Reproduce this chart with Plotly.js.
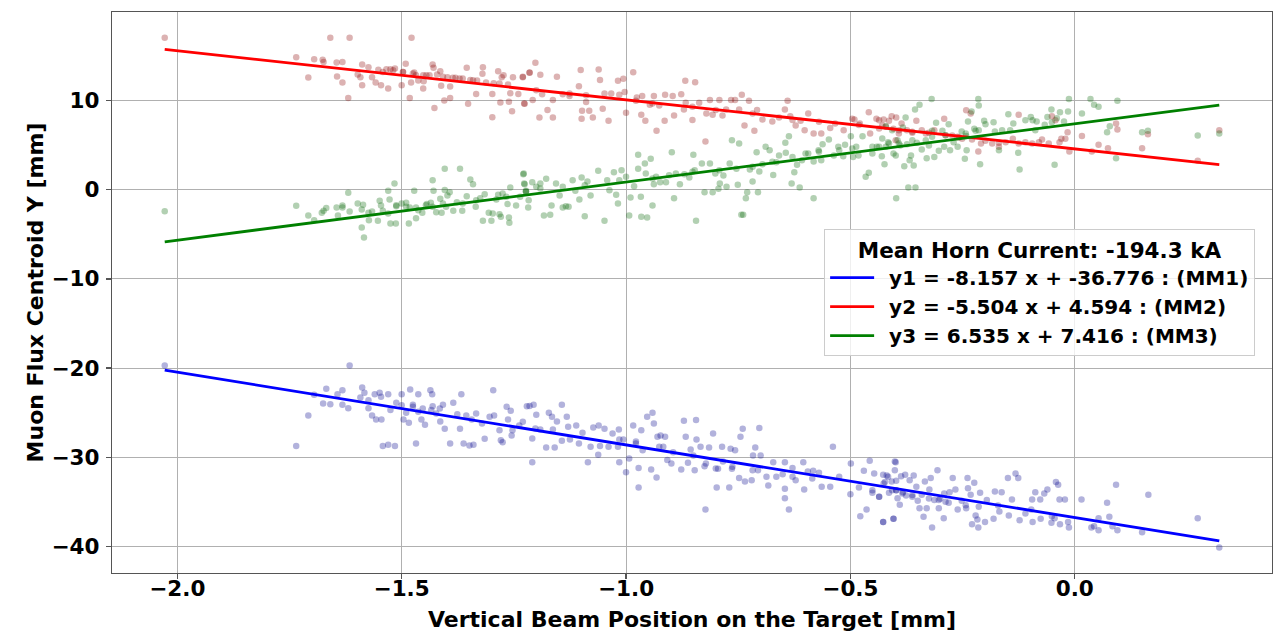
<!DOCTYPE html>
<html>
<head>
<meta charset="utf-8">
<script src="https://cdn.plot.ly/plotly-3.0.1.min.js"></script>
<style>html,body{margin:0;padding:0;background:#fff;}#chart{width:1282px;height:632px;}</style>
</head>
<body>
<div id="chart"></div>
<script>
// Fit coefficients (from legend)
const slopes = [-8.157, -5.504, 6.535];
const intercepts = [-36.776, 4.594, 7.416];
const monitorNames = ['MM1', 'MM2', 'MM3'];
const hornCurrent = -194.3;

// MM1 points: [beam position, centroid Y]
const mm1Points = [
[-2.028,-19.71],[-1.616,-19.71],[-1.735,-28.76],[-1.708,-25.32],[-1.695,-23.00],[-1.675,-23.98],[-1.668,-22.33],[-1.659,-24.05],[-1.643,-22.93],[-1.632,-22.48],[-1.632,-24.13],[-1.619,-24.50],[-1.592,-23.30],[-1.588,-22.18],[-1.583,-22.78],[-1.574,-23.60],[-1.574,-24.50],[-1.566,-25.32],[-1.560,-22.93],[-1.557,-25.77],[-1.549,-22.78],[-1.546,-23.23],[-1.545,-25.77],[-1.542,-28.76],[-1.530,-28.61],[-1.530,-22.93],[-1.525,-24.72],[-1.515,-28.76],[-1.512,-23.90],[-1.500,-22.93],[-1.496,-25.77],[-1.490,-25.02],[-1.481,-22.40],[-1.484,-26.15],[-1.475,-24.13],[-1.468,-28.47],[-1.463,-22.93],[-1.456,-25.77],[-1.448,-26.37],[-1.436,-22.48],[-1.432,-22.93],[-1.431,-24.28],[-1.423,-25.10],[-1.414,-26.00],[-1.408,-24.13],[-1.404,-26.82],[-1.392,-28.47],[-1.385,-23.90],[-1.376,-25.17],[-1.370,-26.82],[-1.367,-22.93],[-1.362,-28.47],[-1.356,-25.32],[-1.349,-28.69],[-1.344,-25.77],[-1.340,-28.61],[-1.334,-25.10],[-1.321,-26.22],[-1.315,-27.94],[-1.304,-25.47],[-1.296,-22.48],[-1.294,-25.32],[-1.282,-26.97],[-1.279,-28.09],[-1.275,-28.32],[-1.266,-24.35],[-1.263,-25.77],[-1.257,-24.80],[-1.255,-27.57],[-1.253,-26.97],[-1.238,-26.44],[-1.221,-24.28],
[-1.500,-24.16],[-1.475,-24.35],[-1.453,-24.54],[-1.434,-24.72],[-1.415,-24.54],[-1.463,-24.91],
[-1.230,-26.03],[-1.215,-24.27],[-1.206,-24.12],[-1.200,-25.25],[-1.209,-27.90],[-1.209,-30.56],[-1.202,-26.78],[-1.191,-26.89],[-1.178,-28.91],[-1.172,-25.02],[-1.165,-25.47],[-1.163,-26.89],[-1.159,-28.91],[-1.154,-25.99],[-1.143,-24.12],[-1.143,-28.16],[-1.132,-25.47],[-1.129,-26.59],[-1.125,-28.01],[-1.111,-26.44],[-1.105,-28.46],[-1.097,-27.27],[-1.085,-30.56],[-1.079,-28.84],[-1.073,-26.67],[-1.062,-29.74],[-1.061,-26.44],[-1.058,-28.76],[-1.048,-26.82],[-1.039,-28.84],[-1.030,-27.34],[-1.018,-28.84],[-1.015,-30.56],[-1.016,-26.89],[-1.006,-28.01],[-1.000,-31.68],[-0.993,-30.15],[-0.984,-26.44],[-0.978,-28.24],[-0.972,-31.23],[-0.972,-33.40],[-0.966,-26.97],[-0.963,-29.21],[-0.953,-25.47],[-0.944,-31.38],[-0.941,-25.02],[-0.938,-26.22],[-0.932,-32.28],[-0.930,-27.72],[-0.923,-27.57],[-0.917,-28.84],[-0.913,-27.72],[-0.908,-30.33],[-0.899,-30.71],[-0.895,-29.44],[-0.877,-31.38],[-0.871,-25.92],[-0.867,-27.72],[-0.862,-30.63],[-0.856,-29.14],[-0.850,-29.81],[-0.847,-31.46],[-0.844,-25.84],[-0.843,-28.01],[-0.834,-28.84],[-0.825,-31.01],[-0.823,-35.87],[-0.815,-28.91],[-0.806,-27.34],[-0.798,-33.40],[-0.795,-31.31],[-0.786,-28.84],[-0.784,-30.48],[-0.770,-33.40],[-0.767,-29.06],[-0.764,-31.31],[-0.757,-29.21],[-0.748,-32.35],[-0.745,-27.72],[-0.740,-26.82],[-0.735,-32.73],[-0.720,-32.58],[-0.717,-29.81],[-0.712,-28.91],[-0.706,-31.46],[-0.703,-26.74],[-0.700,-29.81],[-0.687,-32.20],[-0.683,-33.18],[-0.672,-30.56],[-0.665,-32.20],[-0.651,-31.91],[-0.646,-30.56],[-0.646,-33.55],[-0.646,-34.60],[-0.637,-35.87],[-0.629,-31.23],[-0.622,-32.58],[-0.605,-30.56],[-0.603,-33.63],[-0.595,-31.61],[-0.583,-31.53],[-0.570,-31.76],[-0.564,-33.33],[-0.545,-33.33],[-0.539,-28.84],[-0.525,-32.20],[-0.499,-30.71],[-0.500,-34.15],[-0.478,-36.62],[-0.470,-31.53],[-0.464,-35.87],[-0.457,-30.41],[-0.451,-34.00],[-0.447,-31.83],[-0.436,-34.45],[-0.427,-37.29],[-0.423,-32.80],[-0.416,-32.20],[-0.404,-36.92],[-0.399,-30.56],[-0.398,-33.70],[-0.398,-32.65],
[-1.015,-28.01],[-0.978,-28.46],[-0.926,-28.84],[-0.822,-30.71],[-0.800,-31.27],[-0.763,-31.08],[-0.718,-31.46],[-0.629,-32.20],[-0.585,-32.39],[-0.481,-33.40],[-0.451,-33.70],
[-0.436,-34.45],[-0.427,-31.98],[-0.427,-37.29],[-0.426,-32.95],[-0.419,-32.06],[-0.414,-34.00],[-0.408,-32.73],[-0.404,-36.92],[-0.401,-30.48],[-0.401,-31.46],[-0.398,-33.70],[-0.395,-34.60],[-0.390,-35.35],[-0.387,-32.13],[-0.383,-33.93],[-0.378,-31.98],[-0.376,-34.30],[-0.368,-32.58],[-0.362,-34.45],[-0.359,-32.06],[-0.353,-33.33],[-0.350,-34.90],[-0.346,-35.72],[-0.341,-34.23],[-0.337,-36.70],[-0.334,-32.73],[-0.330,-35.72],[-0.324,-33.63],[-0.321,-32.35],[-0.318,-37.89],[-0.313,-34.82],[-0.306,-31.46],[-0.303,-35.72],[-0.300,-34.67],[-0.292,-36.85],[-0.291,-34.08],[-0.281,-35.12],[-0.279,-33.93],[-0.272,-32.35],[-0.266,-33.63],[-0.261,-35.87],[-0.252,-34.90],[-0.242,-35.72],[-0.239,-32.35],[-0.238,-33.48],[-0.232,-34.23],[-0.229,-37.52],[-0.224,-32.88],[-0.221,-36.55],[-0.217,-37.00],[-0.215,-37.89],[-0.214,-35.57],[-0.211,-34.00],[-0.200,-37.29],[-0.196,-34.82],[-0.181,-36.92],[-0.178,-33.85],[-0.171,-35.42],[-0.168,-36.10],[-0.163,-33.93],[-0.147,-36.55],[-0.149,-32.35],[-0.140,-34.75],[-0.132,-31.83],[-0.126,-32.35],[-0.123,-37.07],[-0.110,-36.32],[-0.097,-35.87],[-0.095,-34.75],[-0.094,-37.29],[-0.088,-33.93],[-0.077,-34.75],[-0.076,-36.92],[-0.068,-34.08],[-0.061,-33.63],[-0.052,-37.37],[-0.051,-36.62],[-0.045,-36.85],[-0.042,-32.80],[-0.037,-33.10],[-0.034,-34.75],[-0.033,-37.52],[-0.022,-34.75],[-0.015,-37.29],[-0.013,-37.89],[0.015,-34.75],[0.037,-37.89],[0.043,-37.74],[0.053,-36.85],[0.053,-38.19],[0.072,-35.12],[0.077,-36.70],[0.084,-37.74],[0.092,-33.10],[0.095,-38.19],[0.150,-38.42],[0.164,-34.23],[0.274,-36.85],[0.322,-40.14],
[-0.407,-33.70],[-0.384,-34.08],[-0.362,-34.26],[-0.325,-34.64],[-0.303,-34.82],[-0.288,-35.01],[-0.243,-35.39]
];

// MM2 points
const mm2Points = [
[-2.028,17.06],[-1.735,14.89],[-1.708,12.61],[-1.695,14.66],[-1.676,14.59],[-1.674,14.36],[-1.659,17.06],[-1.645,14.29],[-1.644,12.72],[-1.632,14.36],[-1.632,12.05],[-1.619,10.32],[-1.616,17.06],[-1.598,12.94],[-1.592,12.64],[-1.588,14.07],[-1.588,11.75],[-1.574,13.77],[-1.566,12.64],[-1.558,12.05],[-1.552,13.47],[-1.546,11.75],[-1.542,13.24],[-1.530,11.37],[-1.525,13.54],[-1.515,13.62],[-1.500,11.75],[-1.497,13.24],[-1.491,14.14],[-1.482,10.32],[-1.479,12.05],[-1.478,17.06],[-1.472,13.17],[-1.468,12.87],[-1.463,12.27],[-1.452,11.37],[-1.451,12.20],[-1.445,12.87],[-1.431,14.07],[-1.429,13.69],[-1.427,9.20],[-1.421,12.94],[-1.414,13.32],[-1.412,11.67],[-1.405,10.03],[-1.398,12.64],[-1.392,10.32],[-1.392,11.60],[-1.380,12.57],[-1.371,12.49],[-1.355,13.69],[-1.352,9.65],[-1.347,12.34],[-1.334,10.77],[-1.332,12.27],[-1.320,13.02],[-1.319,13.77],[-1.298,10.77],[-1.298,8.15],[-1.295,11.97],[-1.285,13.32],[-1.280,9.80],[-1.277,12.64],[-1.273,12.87],[-1.261,9.88],[-1.258,10.85],[-1.254,8.83],[-1.252,12.64],[-1.240,10.77],[-1.230,12.64],[-1.226,9.65],[-1.215,13.17],
[-1.534,13.54],[-1.519,13.43],[-1.497,13.24],[-1.475,13.06],[-1.452,12.87],[-1.438,12.87],[-1.408,12.68],[-1.386,12.57],[-1.364,12.49],[-1.341,12.31],[-1.312,12.05],[-1.282,11.93],[-1.263,11.82],
[-1.230,12.69],[-1.227,9.70],[-1.215,13.14],[-1.208,10.07],[-1.202,14.26],[-1.191,12.91],[-1.193,8.13],[-1.187,10.74],[-1.175,8.95],[-1.163,8.13],[-1.163,10.07],[-1.154,12.69],[-1.141,10.74],[-1.126,10.52],[-1.105,11.64],[-1.101,13.44],[-1.099,7.98],[-1.098,8.87],[-1.089,9.85],[-1.082,8.87],[-1.074,8.13],[-1.061,13.51],[-1.058,12.32],[-1.052,9.10],[-1.048,10.82],[-1.039,7.75],[-1.033,10.82],[-1.018,12.24],[-1.015,10.67],[-1.006,12.46],[-1.003,10.97],[-1.000,8.65],[-0.984,13.21],[-0.976,10.37],[-0.966,8.42],[-0.964,10.52],[-0.957,7.75],[-0.947,9.55],[-0.938,10.52],[-0.932,6.63],[-0.926,9.47],[-0.914,7.75],[-0.913,10.67],[-0.896,10.52],[-0.893,8.35],[-0.877,10.74],[-0.871,9.02],[-0.868,12.24],[-0.867,9.77],[-0.852,7.83],[-0.846,12.09],[-0.837,9.77],[-0.823,5.43],[-0.821,8.57],[-0.813,10.07],[-0.807,8.42],[-0.792,10.07],[-0.785,8.35],[-0.777,9.02],[-0.766,10.07],[-0.757,10.07],[-0.748,9.02],[-0.742,10.67],[-0.736,7.23],[-0.726,10.00],[-0.714,6.63],[-0.708,8.95],[-0.696,7.90],[-0.674,7.68],[-0.659,8.13],[-0.646,9.02],[-0.640,10.00],[-0.634,8.27],[-0.622,7.23],[-0.611,7.75],[-0.602,6.70],[-0.594,8.57],[-0.582,6.33],[-0.565,6.33],[-0.545,6.93],[-0.534,7.45],[-0.515,6.70],[-0.496,7.98],[-0.491,7.90],[-0.479,7.45],[-0.459,8.72],[-0.456,6.33],[-0.442,7.98],[-0.429,7.23],[-0.414,7.75],[-0.398,8.13],[-0.399,5.58],
[-1.200,11.19],[-1.126,10.82],[-1.089,10.63],[-0.978,10.00],[-0.941,9.70],[-0.852,9.32],[-0.800,8.95],[-0.718,8.57],[-0.629,7.83],[-0.570,7.64],[-0.481,7.27],[-0.436,6.89],
[-0.436,7.82],[-0.426,7.90],[-0.408,8.27],[-0.404,6.85],[-0.392,6.32],[-0.386,7.45],[-0.374,6.70],[-0.362,6.40],[-0.353,7.75],[-0.341,6.70],[-0.332,6.32],[-0.313,6.70],[-0.291,7.97],[-0.273,6.10],[-0.261,5.95],[-0.251,5.73],[-0.242,8.94],[-0.232,8.57],[-0.215,4.30],[-0.209,5.20],[-0.184,5.20],[-0.169,4.83],[-0.154,5.35],[-0.138,5.73],[-0.125,8.42],[-0.110,5.35],[-0.095,5.20],[-0.080,5.35],[-0.073,5.65],[-0.058,5.20],[-0.051,8.27],[-0.043,7.82],[-0.034,5.35],[-0.030,5.73],[-0.021,5.73],[-0.016,6.47],[-0.012,4.30],[0.016,6.03],[0.038,4.30],[0.053,5.05],[0.074,4.68],[0.092,7.45],[0.095,6.77],[0.150,4.68],[0.163,6.25],[0.274,3.26],[0.322,6.70],
[-0.421,7.07],[-0.392,6.70],[-0.362,6.51],[-0.325,6.40],[-0.288,6.14],[-0.258,5.88],[-0.229,5.65],[-0.199,5.50],[-0.169,5.28],[-0.125,5.20]
];

// MM3 points
const mm3Points = [
[-2.028,-2.39],[-1.735,-1.79],[-1.708,-2.88],[-1.695,-3.40],[-1.678,-2.58],[-1.674,-2.35],[-1.668,-2.05],[-1.645,-1.98],[-1.642,-2.88],[-1.632,-1.75],[-1.632,-1.98],[-1.619,-0.33],[-1.616,-2.43],[-1.598,-1.53],[-1.589,-4.22],[-1.586,-1.68],[-1.584,-5.35],[-1.589,-2.20],[-1.574,-2.58],[-1.573,-3.40],[-1.566,-2.43],[-1.553,-3.47],[-1.549,-1.23],[-1.546,-1.75],[-1.542,-2.35],[-1.530,-0.11],[-1.530,-2.65],[-1.527,-1.08],[-1.525,-3.77],[-1.516,0.72],[-1.513,-3.77],[-1.512,-1.83],[-1.500,-1.53],[-1.490,-1.45],[-1.484,-3.77],[-1.482,-1.98],[-1.472,-0.11],[-1.468,-3.18],[-1.463,-2.28],[-1.454,-2.58],[-1.444,-1.60],[-1.435,-1.45],[-1.431,1.09],[-1.429,-0.11],[-1.423,-2.50],[-1.414,-1.01],[-1.411,-2.58],[-1.404,2.36],[-1.404,-0.03],[-1.401,-1.90],[-1.398,-0.63],[-1.393,-0.26],[-1.385,-2.35],[-1.377,-1.38],[-1.370,2.36],[-1.365,-2.35],[-1.355,-0.71],[-1.347,1.16],[-1.341,0.64],[-1.335,-1.90],[-1.325,-0.93],[-1.319,-3.47],[-1.315,-0.48],[-1.306,-2.58],[-1.300,-3.47],[-1.297,-2.65],[-1.285,-0.56],[-1.282,-2.73],[-1.279,-3.03],[-1.275,-0.41],[-1.264,-1.60],[-1.261,-3.10],[-1.260,-3.70],[-1.258,0.27],[-1.245,-1.75],[-1.236,-0.78],[-1.229,1.76],[-1.226,0.64],[-1.218,-1.98],[-1.223,-0.18],
[-1.512,-1.72],[-1.490,-1.90],[-1.468,-1.98],[-1.446,-1.72],[-1.431,-1.90],[-1.408,-1.53],[-1.364,-1.53],[-1.334,-1.16],[-1.289,-1.08],[-1.267,-0.78],
[-1.228,1.83],[-1.227,0.71],[-1.223,-0.11],[-1.217,-1.16],[-1.209,0.86],[-1.200,0.34],[-1.191,0.71],[-1.183,-2.88],[-1.178,1.24],[-1.169,-2.80],[-1.166,-1.76],[-1.156,0.71],[-1.148,-0.63],[-1.141,-1.98],[-1.134,-1.83],[-1.128,-1.91],[-1.119,1.09],[-1.113,-0.11],[-1.104,-1.08],[-1.099,1.39],[-1.092,-2.95],[-1.086,0.94],[-1.079,-0.63],[-1.062,2.13],[-1.048,-3.48],[-1.042,1.09],[-1.037,-0.04],[-1.027,1.98],[-1.022,-0.56],[-1.018,-1.53],[-1.010,2.21],[-1.000,1.46],[-0.990,-0.86],[-0.993,-2.88],[-0.982,0.41],[-0.973,3.93],[-0.973,2.36],[-0.967,-0.78],[-0.966,-3.03],[-0.958,2.96],[-0.956,1.83],[-0.953,-3.10],[-0.945,3.48],[-0.941,-1.76],[-0.938,0.64],[-0.933,1.46],[-0.924,0.86],[-0.911,0.86],[-0.898,4.23],[-0.893,-0.93],[-0.889,1.83],[-0.880,0.64],[-0.870,1.76],[-0.859,1.39],[-0.850,3.93],[-0.847,2.21],[-0.844,-3.48],[-0.831,2.96],[-0.825,-0.26],[-0.813,2.96],[-0.807,-0.26],[-0.801,1.83],[-0.794,0.11],[-0.791,0.71],[-0.783,1.61],[-0.776,0.34],[-0.769,2.96],[-0.764,5.58],[-0.754,2.36],[-0.751,0.56],[-0.748,5.20],[-0.743,-2.80],[-0.739,-2.80],[-0.733,-0.93],[-0.730,-0.26],[-0.724,2.28],[-0.718,0.94],[-0.709,4.23],[-0.706,-0.26],[-0.703,2.06],[-0.696,2.88],[-0.689,4.83],[-0.680,4.45],[-0.672,1.68],[-0.665,3.11],[-0.659,3.85],[-0.645,5.28],[-0.644,4.15],[-0.637,6.02],[-0.631,0.71],[-0.625,1.98],[-0.619,2.81],[-0.613,0.26],[-0.608,3.33],[-0.600,4.08],[-0.594,4.08],[-0.582,-0.93],[-0.582,3.18],[-0.571,4.45],[-0.565,3.33],[-0.562,5.13],[-0.548,5.65],[-0.537,3.85],[-0.527,4.83],[-0.516,3.78],[-0.512,5.05],[-0.499,6.02],[-0.494,3.70],[-0.487,4.83],[-0.482,3.85],[-0.473,6.02],[-0.466,1.46],[-0.459,1.91],[-0.451,4.08],[-0.441,4.83],[-0.430,3.78],[-0.424,2.88],[-0.414,5.20],[-0.399,3.85],[-0.398,-0.93],
[-1.223,-0.22],[-1.191,0.15],[-1.141,0.34],[-1.092,0.52],[-1.015,1.09],[-0.941,1.27],[-0.904,1.65],[-0.852,2.02],[-0.792,2.21],[-0.718,2.58],[-0.674,3.14],[-0.629,3.70],[-0.570,4.27],[-0.525,4.45],[-0.496,4.64],[-0.451,4.83],
[-0.436,4.83],[-0.429,5.76],[-0.421,7.15],[-0.416,5.35],[-0.407,6.70],[-0.404,4.08],[-0.395,5.58],[-0.389,4.98],[-0.383,7.00],[-0.380,2.66],[-0.377,8.12],[-0.374,5.13],[-0.371,0.26],[-0.368,3.33],[-0.365,3.86],[-0.359,2.73],[-0.356,9.02],[-0.355,0.26],[-0.352,5.28],[-0.346,9.54],[-0.341,4.53],[-0.332,5.58],[-0.330,3.56],[-0.325,4.98],[-0.319,10.21],[-0.318,6.62],[-0.313,3.70],[-0.309,7.52],[-0.303,4.38],[-0.295,6.62],[-0.291,4.83],[-0.281,7.37],[-0.278,4.45],[-0.270,5.35],[-0.261,4.83],[-0.252,6.55],[-0.245,3.48],[-0.242,6.03],[-0.241,4.45],[-0.238,7.67],[-0.230,8.79],[-0.224,6.85],[-0.221,6.62],[-0.215,10.21],[-0.214,9.47],[-0.211,2.88],[-0.202,7.75],[-0.199,7.37],[-0.181,7.60],[-0.178,6.55],[-0.169,4.45],[-0.162,6.70],[-0.148,8.49],[-0.144,6.70],[-0.137,7.45],[-0.126,4.15],[-0.123,2.28],[-0.110,7.82],[-0.098,8.19],[-0.094,7.82],[-0.088,6.70],[-0.085,7.67],[-0.067,7.30],[-0.061,8.19],[-0.052,9.02],[-0.051,7.60],[-0.045,2.81],[-0.040,8.04],[-0.033,8.72],[-0.024,7.67],[-0.015,8.79],[-0.013,10.21],[0.016,8.57],[0.035,10.21],[0.043,9.54],[0.053,9.32],[0.072,6.47],[0.078,7.15],[0.092,3.56],[0.095,9.99],[0.150,6.47],[0.163,6.62],[0.274,6.10],[0.322,6.32],
[-0.421,4.83],[-0.392,5.20],[-0.362,5.58],[-0.318,5.95],[-0.288,6.14],[-0.243,6.32],[-0.214,6.70]
];

const pointSets = [mm1Points, mm2Points, mm3Points];
const pointColors = ['rgba(0,0,139,0.3)', 'rgba(139,0,0,0.3)', 'rgba(0,100,0,0.3)'];
const lineColors = ['#0000ff', '#ff0000', '#008000'];

const FONT = 'DejaVu Sans, Liberation Sans, sans-serif';
const traces = [];
pointSets.forEach((pts, i) => {
  traces.push({
    type: 'scatter', mode: 'markers',
    x: pts.map(p => p[0]), y: pts.map(p => p[1]),
    marker: {size: 6.5, color: pointColors[i], line: {width: 0}},
    showlegend: false, hoverinfo: 'skip'
  });
});
const allX = pointSets.flat().map(p => p[0]);
const xMin = Math.min(...allX), xMax = Math.max(...allX);
pointSets.forEach((pts, i) => {
  const name = `\u2002y${i+1} = ${slopes[i].toFixed(3)} x + ${intercepts[i].toFixed(3)} : (${monitorNames[i]})`;
  traces.push({
    type: 'scatter', mode: 'lines',
    x: [xMin, xMax],
    y: [slopes[i]*xMin + intercepts[i], slopes[i]*xMax + intercepts[i]],
    line: {color: lineColors[i], width: 2.8},
    name: name, showlegend: true
  });
});

const axisCommon = {
  showgrid: true, gridcolor: '#b0b0b0', gridwidth: 1,
  showline: true, mirror: true, linecolor: '#555', linewidth: 1.3,
  ticks: 'outside', ticklen: 5, tickwidth: 1.2, tickcolor: '#555',
  zeroline: false,
  tickfont: {family: FONT, size: 21.5, weight: 'bold', color: '#000'}
};

const layout = {
  width: 1282, height: 632,
  margin: {l: 112, r: 10, t: 12, b: 59},
  paper_bgcolor: '#fff', plot_bgcolor: '#fff',
  xaxis: Object.assign({}, axisCommon, {
    range: [-2.1455, 0.4395], dtick: 0.5, tick0: 0, tickformat: '.1f',
    ticklabelstandoff: -9,
    title: {text: 'Vertical Beam Position on the Target [mm]', standoff: 14,
            font: {family: FONT, size: 22, weight: 'bold', color: '#000'}}
  }),
  yaxis: Object.assign({}, axisCommon, {
    range: [-43.0, 19.96], dtick: 10, tick0: 0,
    ticklabelstandoff: 2,
    title: {text: 'Muon Flux Centroid Y [mm]', standoff: 1,
            font: {family: FONT, size: 22, weight: 'bold', color: '#000'}}
  }),
  legend: {
    x: 0.6139, y: 0.613, xanchor: 'left', yanchor: 'top',
    bgcolor: 'rgba(255,255,255,0.8)', bordercolor: '#cccccc', borderwidth: 1,
    font: {family: FONT, size: 20, weight: 'bold', color: '#000'},
    title: {text: `Mean Horn Current: ${hornCurrent.toFixed(1)} kA`, side: 'top center',
            font: {family: FONT, size: 21.5, weight: 'bold', color: '#000'}},
    itemwidth: 44, tracegroupgap: 0
  },
  showlegend: true
};

Plotly.newPlot('chart', traces, layout, {displayModeBar: false, staticPlot: true});
</script>
</body>
</html>
